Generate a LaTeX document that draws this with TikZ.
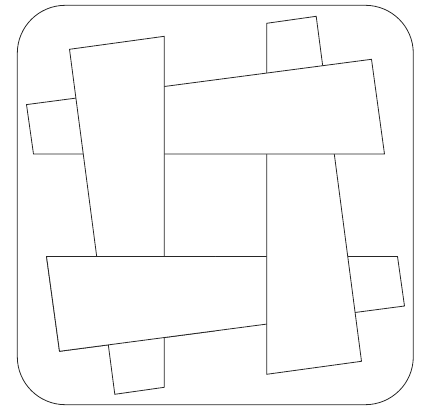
\documentclass[tikz,border=0pt]{standalone}
\usetikzlibrary{calc}

\tikzset{
    frame/.style={draw=black!85, line width=0.8pt, rounded corners=48pt},
    strip/.style={draw=black!85, fill=white, line width=0.8pt, line join=miter}
}
% one strip of the weave, the others are turned copies of it
\newcommand{\stripshape}{(69.5,49.3) -- (164.3,36.3) -- (164.3,387.3) -- (114.8,394.3) -- cycle}

\begin{document}
\begin{tikzpicture}[x=1pt, y=-1pt]

\useasboundingbox (0,0) rectangle (424,406);
\coordinate (mid) at (215.5,205.3);

% Outer frame
\draw[frame] (17.3,5.3) rectangle (413.3,404.7);

% Strips, turned a quarter each, last one on top
\draw[strip, rotate around={-270:(mid)}] \stripshape;
\draw[strip, rotate around={-180:(mid)}] \stripshape;
\draw[strip, rotate around={-90:(mid)}] \stripshape;
\draw[strip] \stripshape;

% bottom strip again over the left one, to close the weave
\begin{scope}
    \clip (0,205) rectangle (215,406);
    \draw[strip, rotate around={-270:(mid)}] \stripshape;
\end{scope}

\end{tikzpicture}
\end{document}
